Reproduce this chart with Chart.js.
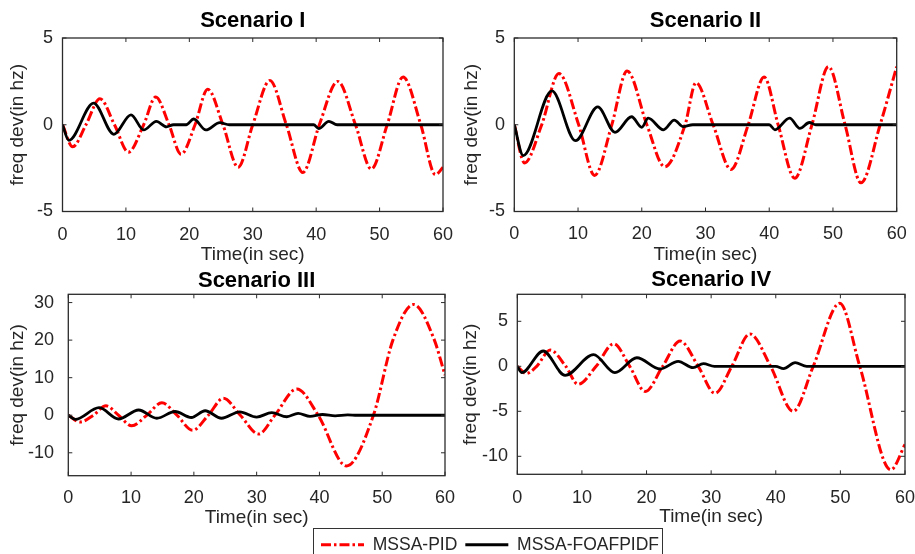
<!DOCTYPE html>
<html>
<head>
<meta charset="utf-8">
<script src="https://cdn.jsdelivr.net/npm/chart.js@4.4.1/dist/chart.umd.min.js"></script>
<style>
    html, body { margin: 0; padding: 0; background: #fff; }
    #wrap { position: relative; width: 915px; height: 554px; overflow: hidden; }
    #wrap canvas { position: absolute; left: 0; top: 0; }
    #legendBox { position: absolute; left: 313px; top: 528px; width: 350px; height: 40px;
                 border: 1.3px solid #333; box-sizing: border-box; }
</style>
</head>
<body>
<div id="wrap">
    <div id="legendBox"></div>
    <canvas id="c1" width="915" height="554"></canvas>
    <canvas id="c2" width="915" height="554"></canvas>
    <canvas id="c3" width="915" height="554"></canvas>
    <canvas id="c4" width="915" height="554"></canvas>
    <canvas id="legend" width="400" height="60" style="left:290px; top:528px"></canvas>
</div>
<script>
// series names
const seriesNames = ["MSSA-PID", "MSSA-FOAFPIDF"];
const panelTitles = ["Scenario I", "Scenario II", "Scenario III", "Scenario IV"];
const timeTicks = [0, 10, 20, 30, 40, 50, 60];

// Scenario I
const pid1T = [0, 1.6, 3.7, 5.9, 8.2, 10.4, 12.8, 14.7, 16.8, 18.7, 20.9, 22.9, 25.3, 27.7, 30.0, 32.7, 35.3, 37.9, 40.5, 43.4, 46.2, 48.7, 51.2, 53.7, 56.5, 58.8, 60];
const pid1Y = [0, -1.27, 0, 1.5, 0, -1.58, 0, 1.6, 0, -1.7, 0, 2.05, 0, -2.45, 0, 2.55, 0, -2.75, 0, 2.5, 0, -2.55, 0, 2.75, 0, -2.88, -2.45];
const fo1T = [0, 1.0, 4.9, 8.1, 10.8, 12.8, 14.8, 16.4, 17.5, 19.5, 20.7, 22.6, 24.8, 26.3, 39.6, 40.4, 42.0, 43.3, 60];
const fo1Y = [0, -0.9, 1.25, -0.55, 0.57, -0.3, 0.2, -0.12, 0, 0, 0.33, -0.3, 0.12, 0, 0, -0.22, 0.2, 0, 0];
const yTicks1 = [-5, 0, 5];

// Scenario II
const pid2T = [0, 1.6, 4.3, 7.0, 10.1, 12.6, 15.3, 17.7, 20.8, 23.6, 26.8, 28.5, 31.2, 34.0, 36.7, 39.2, 41.4, 44.0, 46.7, 49.3, 51.9, 54.4, 57.4, 60];
const pid2Y = [0, -2.2, 0, 2.95, 0, -2.92, 0, 3.1, 0, -2.42, 0, 2.42, 0, -2.58, 0, 2.75, 0, -3.08, 0, 3.35, 0, -3.35, 0, 3.35];
const fo2T = [0, 1.4, 5.9, 9.6, 13.1, 15.8, 18.4, 20.0, 21.0, 23.4, 25.1, 26.5, 28.0, 40.0, 40.9, 43.2, 44.8, 46.3, 47.3, 60];
const fo2Y = [0, -1.78, 1.95, -0.92, 1.03, -0.44, 0.46, -0.15, 0.38, -0.29, 0.27, -0.11, 0, 0, -0.29, 0.38, -0.21, 0.13, 0, 0];
const yTicks2 = [-5, 0, 5];

// Scenario III
const pid3T = [0, 1.9, 4.0, 6.0, 8.0, 10.1, 12.5, 14.9, 17.3, 19.8, 22.3, 24.7, 27.4, 30.3, 32.9, 36.4, 39.8, 44.3, 48.6, 51.7, 55.0, 58.2, 60];
const pid3Y = [0, -1.8, 0, 2.5, 0, -2.8, 0, 3.3, 0, -4.0, 0, 4.5, 0, -5.0, 0, 7.0, 0, -13.5, 0, 20.0, 29.5, 20.5, 10.7];
const fo3T = [0, 1.1, 4.9, 8.0, 11.2, 14.1, 17.0, 19.6, 21.8, 24.4, 27.3, 30.0, 32.4, 34.8, 36.6, 38.5, 40.5, 42.5, 44.5, 46, 60];
const fo3Y = [0, -1.1, 2.0, -1.0, 1.4, -0.8, 1.0, -0.6, 1.2, -0.8, 0.9, -0.5, 0.7, -0.4, 0.5, -0.3, 0.2, -0.15, 0.1, 0, 0];
const yTicks3 = [-10, 0, 10, 20, 30];

// Scenario IV
const pid4T = [0, 1.4, 3.0, 5.1, 7.5, 9.4, 12.2, 14.9, 17.4, 19.8, 22.5, 25.2, 28.0, 30.6, 33.2, 36.0, 39.2, 42.7, 45.8, 49.9, 53.0, 57.8, 60];
const pid4Y = [0, -0.8, 0, 1.8, 0, -2.0, 0, 2.5, 0, -2.8, 0, 2.8, 0, -3.0, 0, 3.6, 0, -5.0, 0, 7.0, 0, -11.5, -8.7];
const fo4T = [0, 0.7, 4.0, 7.4, 11.8, 15.1, 18.5, 22.1, 24.9, 27.2, 28.8, 30.5, 40.0, 41.2, 43.0, 44.8, 60];
const fo4Y = [0, -0.7, 1.7, -1.0, 1.3, -0.7, 0.95, -0.3, 0.55, -0.15, 0.3, 0, 0, -0.25, 0.4, 0, 0];
const yTicks4 = [-10, -5, 0, 5];

Chart.defaults.font.family = "'Liberation Sans', Arial, sans-serif";
Chart.defaults.color = '#262626';

const TICK_SIZE = 18, AXIS_SIZE = 19, TITLE_SIZE = 22;
const TICK_LH = TICK_SIZE * 1.2, AXIS_LH = AXIS_SIZE * 1.2, TITLE_LH = TITLE_SIZE * 1.2;

const pidStyle = { borderColor: '#ff0000', borderWidth: 3, borderDash: [10, 3, 2.5, 3] };
const foStyle = { borderColor: '#000000', borderWidth: 2.8, borderDash: [] };

// box + inward tick marks like matlab axes
const framePlugin = {
    id: 'frame',
    afterDatasetsDraw(chart) {
        const { ctx, chartArea: a, scales: { x, y } } = chart;
        ctx.save();
        ctx.strokeStyle = '#2b2b2b';
        ctx.lineWidth = 1;
        ctx.beginPath();
        x.ticks.forEach(t => {
            const px = x.getPixelForValue(t.value);
            ctx.moveTo(px, a.bottom); ctx.lineTo(px, a.bottom - 4);
            ctx.moveTo(px, a.top); ctx.lineTo(px, a.top + 4);
        });
        y.ticks.forEach(t => {
            const py = y.getPixelForValue(t.value);
            ctx.moveTo(a.left, py); ctx.lineTo(a.left + 4, py);
            ctx.moveTo(a.right, py); ctx.lineTo(a.right - 4, py);
        });
        ctx.stroke();
        ctx.lineWidth = 1.3;
        ctx.strokeRect(a.left, a.top, a.right - a.left, a.bottom - a.top);
        ctx.restore();
    }
};

function points(ts, ys) {
    return ts.map((t, i) => ({ x: t, y: ys[i] }));
}

function makePanel(id, p, title, yTicks, yMin, yMax, pidT, pidY, foT, foY) {
    const padLeft = p.yTitleX - AXIS_LH / 2;
    const yWidth = p.left - padLeft;
    const yTickPad = p.left - p.yLabelRight;
    const titlePadBottom = Math.max(p.top - p.titleY - TITLE_LH / 2, 0);
    const xHeight = p.xTitleY + AXIS_LH / 2 - p.bottom;
    const padBottom = 554 - p.bottom - xHeight;
    const xTickPad = p.tickY - p.bottom - TICK_LH / 2;

    new Chart(document.getElementById(id).getContext('2d'), {
        type: 'line',
        data: {
            datasets: [
                Object.assign({ label: seriesNames[1], data: points(foT, foY) }, foStyle),
                Object.assign({ label: seriesNames[0], data: points(pidT, pidY) }, pidStyle),
            ]
        },
        options: {
            responsive: false,
            animation: false,
            devicePixelRatio: 1,
            events: [],
            layout: { padding: { left: padLeft, top: p.top - TITLE_LH - titlePadBottom, right: 915 - p.right, bottom: padBottom } },
            elements: {
                point: { radius: 0 },
                line: { cubicInterpolationMode: 'monotone', fill: false }
            },
            plugins: {
                legend: { display: false },
                tooltip: { enabled: false },
                title: {
                    display: true,
                    text: title,
                    fullSize: false,
                    color: '#000',
                    font: { size: TITLE_SIZE, weight: 'bold' },
                    padding: { top: 0, bottom: titlePadBottom }
                }
            },
            scales: {
                x: {
                    type: 'linear',
                    min: 0,
                    max: 60,
                    grid: { display: false, drawTicks: false },
                    border: { display: false },
                    ticks: { font: { size: TICK_SIZE }, padding: xTickPad, maxRotation: 0, autoSkip: false },
                    title: { display: true, text: 'Time(in sec)', font: { size: AXIS_SIZE }, padding: { top: 0, bottom: 0 } },
                    afterBuildTicks: s => { s.ticks = timeTicks.map(v => ({ value: v })); },
                    afterFit: s => { s.height = xHeight; s.paddingLeft = 0; s.paddingRight = 0; }
                },
                y: {
                    min: yMin,
                    max: yMax,
                    grid: { display: false, drawTicks: false },
                    border: { display: false },
                    ticks: { font: { size: TICK_SIZE }, padding: yTickPad, callback: v => String(v) },
                    title: { display: true, text: 'freq dev(in hz)', font: { size: AXIS_SIZE }, padding: { top: 0, bottom: 0 } },
                    afterBuildTicks: s => { s.ticks = yTicks.map(v => ({ value: v })); },
                    afterFit: s => { s.width = yWidth; s.paddingTop = 0; s.paddingBottom = 0; }
                }
            }
        },
        plugins: [framePlugin]
    });
}

makePanel('c1', { left: 62.5, right: 443, top: 38, bottom: 211.5, titleY: 21, tickY: 235, xTitleY: 255, yTitleX: 17.5, yLabelRight: 53 },
    panelTitles[0], yTicks1, -5, 5, pid1T, pid1Y, fo1T, fo1Y);
makePanel('c2', { left: 514.3, right: 896.7, top: 38, bottom: 211.5, titleY: 20.5, tickY: 234.5, xTitleY: 255, yTitleX: 471.5, yLabelRight: 505 },
    panelTitles[1], yTicks2, -5, 5, pid2T, pid2Y, fo2T, fo2Y);
makePanel('c3', { left: 68.3, right: 445, top: 294.3, bottom: 475.7, titleY: 280.5, tickY: 498.5, xTitleY: 518, yTitleX: 18, yLabelRight: 54 },
    panelTitles[2], yTicks3, -16.1, 32.2, pid3T, pid3Y, fo3T, fo3Y);
makePanel('c4', { left: 517.3, right: 905, top: 294.3, bottom: 474.3, titleY: 279.5, tickY: 498, xTitleY: 517, yTitleX: 471, yLabelRight: 508 },
    panelTitles[3], yTicks4, -12, 8, pid4T, pid4Y, fo4T, fo4Y);

// shared legend
new Chart(document.getElementById('legend').getContext('2d'), {
    type: 'line',
    data: {
        datasets: [
            Object.assign({ label: seriesNames[0], data: [] }, pidStyle),
            Object.assign({ label: seriesNames[1], data: [] }, foStyle),
        ]
    },
    options: {
        responsive: false,
        animation: false,
        devicePixelRatio: 1,
        events: [],
        layout: { padding: 0 },
        scales: { x: { display: false }, y: { display: false } },
        plugins: {
            tooltip: { enabled: false },
            legend: {
                position: 'top',
                maxHeight: 60,
                labels: {
                    usePointStyle: true,
                    pointStyle: 'line',
                    pointStyleWidth: 43,
                    padding: 8,
                    color: '#262626',
                    font: { size: 17.5 },
                    generateLabels: chart => {
                        const items = Chart.defaults.plugins.legend.labels.generateLabels(chart);
                        items.forEach((it, i) => {
                            const ds = chart.data.datasets[i];
                            it.lineDash = ds.borderDash;
                            it.lineWidth = ds.borderWidth;
                            it.strokeStyle = ds.borderColor;
                        });
                        return items;
                    }
                }
            }
        }
    }
});
</script>
</body>
</html>
